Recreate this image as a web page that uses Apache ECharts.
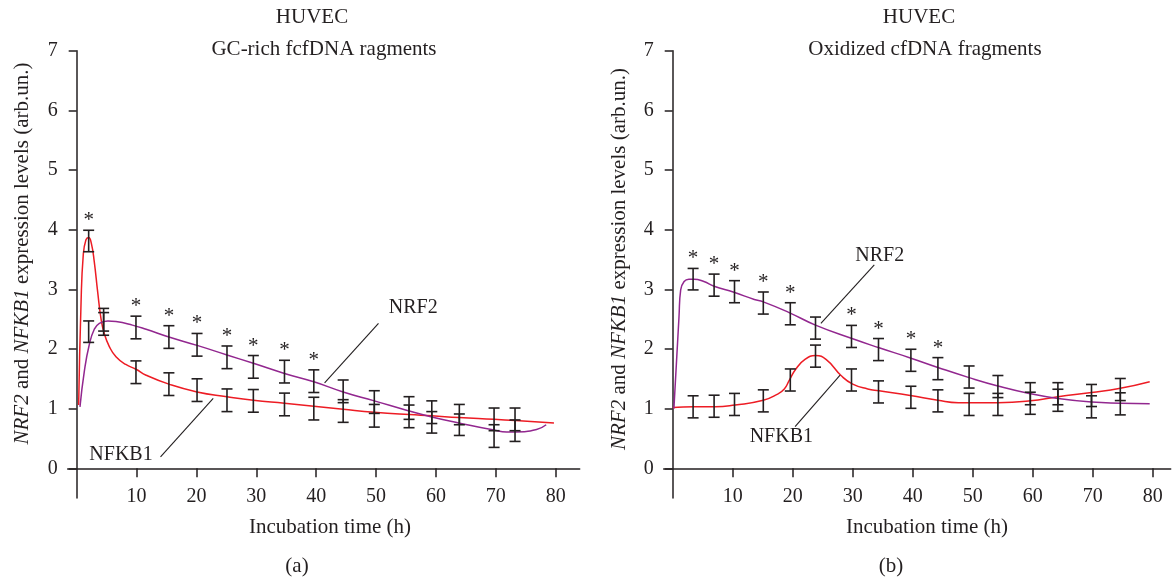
<!DOCTYPE html>
<html><head><meta charset="utf-8">
<script src="https://cdn.jsdelivr.net/npm/echarts@6/dist/echarts.min.js"></script>
<style>html,body{margin:0;padding:0;background:#fff}#c{width:1172px;height:580px}</style>
</head><body><div id="c"></div>
<script>
// ---------- tick labels ----------
const xTicks = [10, 20, 30, 40, 50, 60, 70, 80];
const yTicks = [0, 1, 2, 3, 4, 5, 6, 7];

// ---------- texts ----------
const cellLine = 'HUVEC';
const subTitleA = 'GC-rich fcfDNA ragments';
const subTitleB = 'Oxidized cfDNA fragments';
const xName = 'Incubation time (h)';
const panelA = '(a)';
const panelB = '(b)';

// ---------- panel (a): error-bar points ----------
const aTime = [2, 4.5, 9.9, 15.4, 20.1, 25.1, 29.5, 34.7, 39.6, 44.5, 49.7, 55.5, 59.3, 63.9, 69.7, 73.2];
const aNfkbMean = [3.81, 2.42, 1.61, 1.41, 1.31, 1.14, 1.13, 1.07, 1.00, 0.96, 0.88, 0.87, 0.94, 0.90, 0.82, 0.82];
const aNfkbErr  = [0.18, 0.19, 0.19, 0.19, 0.19, 0.19, 0.19, 0.19, 0.19, 0.19, 0.19, 0.19, 0.19, 0.17, 0.19, 0.19];
const aNrfMean  = [2.29, 2.49, 2.36, 2.20, 2.07, 1.86, 1.70, 1.62, 1.46, 1.29, 1.11, 1.01, 0.77, 0.73, 0.54, 0.63];
const aNrfErr   = [0.18, 0.19, 0.19, 0.19, 0.19, 0.19, 0.19, 0.19, 0.19, 0.19, 0.19, 0.19, 0.18, 0.18, 0.19, 0.18];
const aNfkbSig  = [1, 0, 0, 0, 0, 0, 0, 0, 0, 0, 0, 0, 0, 0, 0, 0];
const aNrfSig   = [0, 0, 1, 1, 1, 1, 1, 1, 1, 0, 0, 0, 0, 0, 0, 0];

// ---------- panel (a): fitted curves ----------
const aNfkbCurveX = [0.33, 0.72, 1.1, 1.55, 2.0, 2.45, 2.94, 3.5, 4.06, 4.6, 5.45, 6.56, 8.2, 9.9, 11.6, 15.4, 20.1, 25.1, 29.5, 34.7, 39.6, 44.5, 49.7, 55.5, 59.3, 63.8, 69.7, 73.3, 79.7];
const aNfkbCurveY = [1.06, 2.74, 3.58, 3.83, 3.87, 3.77, 3.46, 2.96, 2.51, 2.26, 2.04, 1.87, 1.74, 1.66, 1.56, 1.41, 1.28, 1.20, 1.14, 1.09, 1.04, 0.99, 0.94, 0.90, 0.88, 0.85, 0.82, 0.80, 0.76];
const aNrfCurveX  = [0.55, 1.27, 2.1, 2.94, 3.78, 5.2, 6.56, 9.3, 11.6, 15.4, 20.1, 25.1, 29.5, 34.7, 39.6, 44.5, 49.7, 55.5, 59.3, 63.8, 69.7, 71.8, 73.3, 76.8, 78.4];
const aNrfCurveY  = [1.03, 1.62, 2.07, 2.33, 2.43, 2.47, 2.46, 2.40, 2.33, 2.20, 2.06, 1.90, 1.76, 1.59, 1.45, 1.28, 1.13, 0.96, 0.86, 0.76, 0.64, 0.61, 0.61, 0.65, 0.73];

// ---------- panel (a): curve labels and leader lines ----------
const aLabels = [[56.2, 2.69, 'NRF2'], [7.4, 0.22, 'NFKB1']];
const aLeaderNrf  = [[50.4, 2.43], [41.4, 1.43]];
const aLeaderNfkb = [[14.0, 0.19], [22.8, 1.17]];

// ---------- panel (b): error-bar points ----------
const bTime = [3.4, 6.9, 10.3, 15.1, 19.6, 23.8, 29.8, 34.3, 39.7, 44.2, 49.4, 54.2, 59.6, 64.2, 69.8, 74.6];
const bNrfMean  = [3.17, 3.07, 2.96, 2.77, 2.59, 2.35, 2.21, 1.99, 1.81, 1.67, 1.53, 1.37, 1.25, 1.14, 1.03, 1.08];
const bNrfErr   = [0.18, 0.185, 0.185, 0.185, 0.185, 0.185, 0.185, 0.185, 0.185, 0.185, 0.185, 0.185, 0.185, 0.185, 0.185, 0.185];
const bNfkbMean = [1.03, 1.04, 1.07, 1.13, 1.48, 1.88, 1.48, 1.28, 1.19, 1.13, 1.07, 1.07, 1.09, 1.25, 1.22, 1.32];
const bNfkbErr  = [0.185, 0.185, 0.185, 0.185, 0.185, 0.185, 0.185, 0.185, 0.185, 0.185, 0.185, 0.185, 0.185, 0.185, 0.185, 0.185];
const bNrfSig   = [1, 1, 1, 1, 1, 0, 1, 1, 1, 1, 0, 0, 0, 0, 0, 0];

// ---------- panel (b): fitted curves ----------
const bNrfCurveX  = [0.2, 1.05, 1.33, 1.9, 2.7, 3.55, 5.2, 6.9, 10.2, 13.6, 15.1, 19.4, 23.8, 30.0, 34.4, 39.6, 44.2, 49.4, 54.2, 59.6, 64.2, 69.8, 74.6, 79.5];
const bNrfCurveY  = [1.00, 2.54, 2.99, 3.13, 3.17, 3.17, 3.13, 3.05, 2.95, 2.83, 2.79, 2.61, 2.40, 2.17, 2.02, 1.85, 1.69, 1.52, 1.38, 1.25, 1.17, 1.11, 1.09, 1.08];
const bNfkbCurveX = [0, 3.5, 7.1, 10.4, 15.1, 17.4, 18.6, 19.4, 20.5, 22.1, 23.8, 25.6, 28.1, 30.0, 32.5, 34.4, 39.6, 44.2, 47.6, 54.2, 59.6, 64.2, 69.8, 74.6, 79.5];
const bNfkbCurveY = [1.02, 1.03, 1.03, 1.06, 1.14, 1.24, 1.33, 1.47, 1.66, 1.83, 1.89, 1.82, 1.55, 1.41, 1.33, 1.30, 1.22, 1.14, 1.10, 1.10, 1.13, 1.20, 1.27, 1.34, 1.45];

// ---------- panel (b): curve labels and leader lines ----------
const bLabels = [[34.5, 3.56, 'NRF2'], [18.1, 0.53, 'NFKB1']];
const bLeaderNrf  = [[33.6, 3.41], [24.7, 2.43]];
const bLeaderNfkb = [[20.4, 0.70], [27.9, 1.56]];

// ---------- styling ----------
const FONT = "'Liberation Serif', 'DejaVu Serif', serif";
const INK = '#231f20';
const RED = '#ed1c24';
const PURPLE = '#92278f';
const CLEAR = 'rgba(0,0,0,0)';

function zip(xs, ys) { return xs.map((x, i) => [x, ys[i]]); }

function curve(gi, xs, ys, color) {
  return { type: 'line', xAxisIndex: gi, yAxisIndex: gi, data: zip(xs, ys), smooth: 0.5,
    showSymbol: false, symbol: 'none', silent: true,
    lineStyle: { color: color, width: 1.5 }, z: 2 };
}

function errBars(gi, xs, means, errs) {
  return { type: 'custom', xAxisIndex: gi, yAxisIndex: gi, silent: true, z: 4,
    data: xs.map((x, i) => [x, means[i] - errs[i], means[i] + errs[i]]),
    encode: { x: 0, y: [1, 2] },
    renderItem: function (params, api) {
      const x = api.value(0);
      const lo = api.coord([x, api.value(1)]);
      const hi = api.coord([x, api.value(2)]);
      const w = 5.5;
      const st = { stroke: INK, lineWidth: 1.6 };
      return { type: 'group', children: [
        { type: 'line', shape: { x1: lo[0], y1: lo[1], x2: hi[0], y2: hi[1] }, style: st },
        { type: 'line', shape: { x1: lo[0] - w, y1: lo[1], x2: lo[0] + w, y2: lo[1] }, style: st },
        { type: 'line', shape: { x1: hi[0] - w, y1: hi[1], x2: hi[0] + w, y2: hi[1] }, style: st }
      ] };
    } };
}

function stars(gi, xs, means, errs, sig) {
  const d = [];
  xs.forEach((x, i) => { if (sig[i]) d.push([x, means[i] + errs[i]]); });
  return { type: 'scatter', xAxisIndex: gi, yAxisIndex: gi, data: d, symbolSize: 2, silent: true, z: 5,
    itemStyle: { color: CLEAR, opacity: 1 },
    label: { show: true, position: 'top', distance: -2, formatter: '*', color: INK, opacity: 1,
      textBorderWidth: 0, fontFamily: FONT, fontSize: 21 } };
}

function labels(gi, items) {
  return { type: 'scatter', xAxisIndex: gi, yAxisIndex: gi, data: items, symbolSize: 2, silent: true, z: 5,
    itemStyle: { color: CLEAR, opacity: 1 },
    label: { show: true, position: 'inside', formatter: p => p.value[2], color: INK, opacity: 1,
      textBorderWidth: 0, fontFamily: FONT, fontSize: 20 } };
}

function leader(gi, pts) {
  return { type: 'line', xAxisIndex: gi, yAxisIndex: gi, data: pts, symbol: 'none', silent: true,
    lineStyle: { color: INK, width: 1.1 }, z: 3 };
}

function xAxisCfg(gi, max) {
  return { gridIndex: gi, type: 'value', min: -1.5, max: max,
    axisLine: { onZero: true, lineStyle: { color: INK, width: 1.5 } },
    axisTick: { show: true, customValues: xTicks, length: 9, lineStyle: { color: INK, width: 1.5 } },
    axisLabel: { customValues: xTicks, margin: -11, color: INK, fontFamily: FONT, fontSize: 20 },
    splitLine: { show: false } };
}

function yAxisCfg(gi) {
  return { gridIndex: gi, type: 'value', min: -0.5, max: 7,
    axisLine: { onZero: true, lineStyle: { color: INK, width: 1.5 } },
    axisTick: { show: true, customValues: yTicks, length: 8, lineStyle: { color: INK, width: 1.5 } },
    axisLabel: { customValues: yTicks, margin: 10, color: INK, fontFamily: FONT, fontSize: 20 },
    splitLine: { show: false } };
}

const yNameRich = '{i|NRF2} and {i|NFKB1} expression levels (arb.un.)';

function txt(x, y, text) {
  return { type: 'text', x: x, y: y, silent: true,
    style: { text: text, fill: INK, font: '21px ' + FONT, align: 'center', verticalAlign: 'middle' } };
}

function yName(x, y) {
  return { type: 'text', x: x, y: y, rotation: Math.PI / 2, silent: true,
    style: { text: yNameRich, fill: INK, font: '21px ' + FONT, align: 'center', verticalAlign: 'middle',
      rich: { i: { fontStyle: 'italic', fontFamily: FONT, fontSize: 21, fill: INK } } } };
}

const chart = echarts.init(document.getElementById('c'), null, { renderer: 'canvas' });
chart.setOption({
  backgroundColor: '#ffffff',
  animation: false,
  grid: [
    { left: 67.7, right: 1172 - 579.7, top: 50.7, bottom: 580 - 498.1 },
    { left: 663.7, right: 1.3, top: 50.7, bottom: 580 - 498.1 }
  ],
  xAxis: [xAxisCfg(0, 84), xAxisCfg(1, 83)],
  yAxis: [yAxisCfg(0), yAxisCfg(1)],
  series: [
    curve(0, aNfkbCurveX, aNfkbCurveY, RED),
    curve(0, aNrfCurveX, aNrfCurveY, PURPLE),
    errBars(0, aTime, aNfkbMean, aNfkbErr),
    errBars(0, aTime, aNrfMean, aNrfErr),
    stars(0, aTime, aNfkbMean, aNfkbErr, aNfkbSig),
    stars(0, aTime, aNrfMean, aNrfErr, aNrfSig),
    labels(0, aLabels),
    leader(0, aLeaderNrf),
    leader(0, aLeaderNfkb),

    curve(1, bNfkbCurveX, bNfkbCurveY, RED),
    curve(1, bNrfCurveX, bNrfCurveY, PURPLE),
    errBars(1, bTime, bNfkbMean, bNfkbErr),
    errBars(1, bTime, bNrfMean, bNrfErr),
    stars(1, bTime, bNrfMean, bNrfErr, bNrfSig),
    labels(1, bLabels),
    leader(1, bLeaderNrf),
    leader(1, bLeaderNfkb)
  ],
  graphic: [
    txt(312, 17, cellLine),
    txt(324, 49, subTitleA),
    txt(919, 17, cellLine),
    txt(925, 49, subTitleB),
    txt(330, 527, xName),
    txt(927, 527, xName),
    txt(297, 566, panelA),
    txt(891, 566, panelB),
    yName(22, 253.5),
    yName(619, 259)
  ]
});
</script></body></html>
